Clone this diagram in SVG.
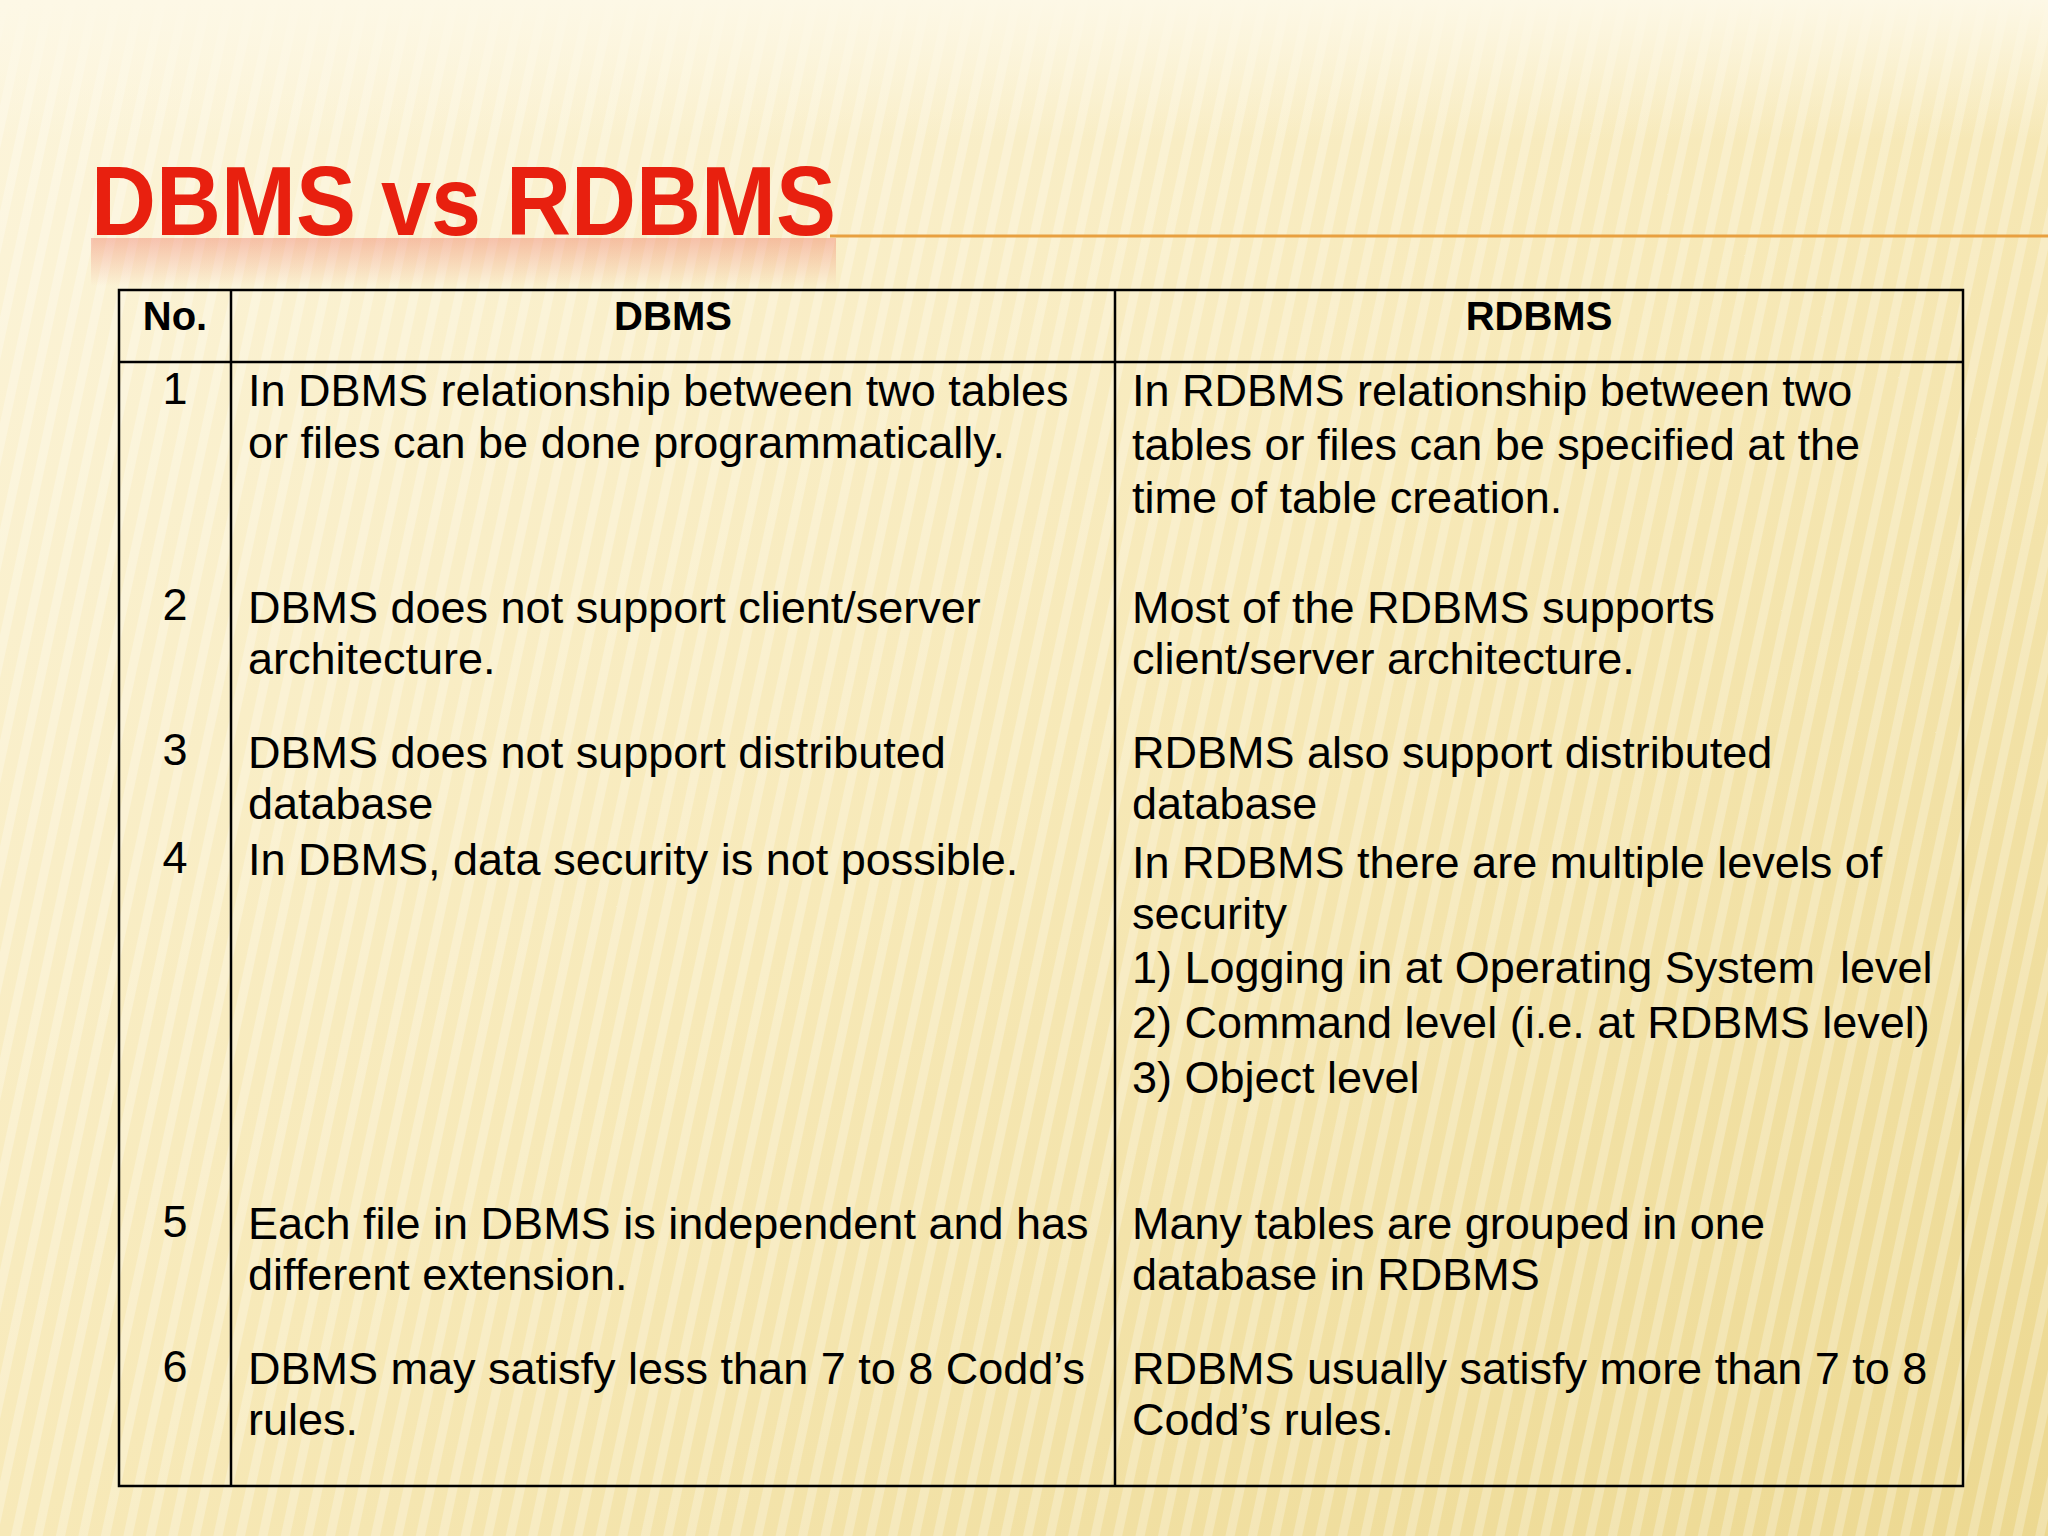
<svg xmlns="http://www.w3.org/2000/svg" width="2048" height="1536" viewBox="0 0 2048 1536">
<defs>
<linearGradient id="bg" x1="0" y1="0" x2="1" y2="1">
<stop offset="0" stop-color="#fcf5dc"/><stop offset="0.5" stop-color="#f7e9b8"/><stop offset="1" stop-color="#ecd890"/>
</linearGradient>
<linearGradient id="top" x1="0" y1="0" x2="0" y2="1">
<stop offset="0" stop-color="#fdf8e6"/><stop offset="1" stop-color="#fdf8e6" stop-opacity="0"/>
</linearGradient>
<pattern id="stripes" width="22" height="22" patternUnits="userSpaceOnUse" patternTransform="rotate(12)">
<rect width="9" height="22" fill="#ffffff" opacity="0.25"/>
</pattern>
<linearGradient id="refl" x1="0" y1="0" x2="0" y2="1">
<stop offset="0" stop-color="#e8281c" stop-opacity="0.25"/><stop offset="1" stop-color="#e8281c" stop-opacity="0"/>
</linearGradient>
</defs>
<style>
.t{font-family:"Liberation Sans",Arial,sans-serif;font-size:45px;fill:#000}
.h{font-family:"Liberation Sans",Arial,sans-serif;font-size:40px;font-weight:bold;fill:#000;text-anchor:middle}
.n{text-anchor:middle}
.g{stroke:#000;stroke-width:2.5;fill:none}
</style>
<rect width="2048" height="1536" fill="url(#bg)"/>
<rect width="2048" height="1536" fill="url(#stripes)"/>
<rect width="2048" height="140" fill="url(#top)"/>
<line x1="830" y1="236" x2="2048" y2="236" stroke="#e8a040" stroke-width="3"/>
<rect x="91" y="238" width="745" height="48" fill="url(#refl)"/>
<g id="title">
<text x="91" y="235" font-family="'Liberation Sans',Arial,sans-serif" font-weight="bold" font-size="98" fill="#e8200f" textLength="745" lengthAdjust="spacingAndGlyphs">DBMS vs RDBMS</text>
</g>
<g id="table">
<rect class="g" x="119" y="290" width="1844" height="1196"/>
<line class="g" x1="119" y1="362" x2="1963" y2="362"/>
<line class="g" x1="231" y1="290" x2="231" y2="1486"/>
<line class="g" x1="1115" y1="290" x2="1115" y2="1486"/>
<text class="h" x="175" y="330">No.</text>
<text class="h" x="673" y="330">DBMS</text>
<text class="h" x="1539" y="330">RDBMS</text>
</g>
<g id="numbers">
<text class="t n" x="175" y="404">1</text>
<text class="t n" x="175" y="620">2</text>
<text class="t n" x="175" y="765">3</text>
<text class="t n" x="175" y="873">4</text>
<text class="t n" x="175" y="1237">5</text>
<text class="t n" x="175" y="1382">6</text>
</g>
<g id="dbms">
<text class="t" x="248" y="406">In DBMS relationship between two tables</text>
<text class="t" x="248" y="458">or files can be done programmatically.</text>
<text class="t" x="248" y="623">DBMS does not support client/server</text>
<text class="t" x="248" y="674">architecture.</text>
<text class="t" x="248" y="768">DBMS does not support distributed</text>
<text class="t" x="248" y="819">database</text>
<text class="t" x="248" y="875">In DBMS, data security is not possible.</text>
<text class="t" x="248" y="1239">Each file in DBMS is independent and has</text>
<text class="t" x="248" y="1290">different extension.</text>
<text class="t" x="248" y="1384">DBMS may satisfy less than 7 to 8 Codd’s</text>
<text class="t" x="248" y="1435">rules.</text>
</g>
<g id="rdbms">
<text class="t" x="1132" y="406">In RDBMS relationship between two</text>
<text class="t" x="1132" y="460">tables or files can be specified at the</text>
<text class="t" x="1132" y="513">time of table creation.</text>
<text class="t" x="1132" y="623">Most of the RDBMS supports</text>
<text class="t" x="1132" y="674">client/server architecture.</text>
<text class="t" x="1132" y="768">RDBMS also support distributed</text>
<text class="t" x="1132" y="819">database</text>
<text class="t" x="1132" y="878">In RDBMS there are multiple levels of</text>
<text class="t" x="1132" y="929">security</text>
<text class="t" x="1132" y="983" xml:space="preserve">1) Logging in at Operating System  level</text>
<text class="t" x="1132" y="1038">2) Command level (i.e. at RDBMS level)</text>
<text class="t" x="1132" y="1093">3) Object level</text>
<text class="t" x="1132" y="1239">Many tables are grouped in one</text>
<text class="t" x="1132" y="1290">database in RDBMS</text>
<text class="t" x="1132" y="1384">RDBMS usually satisfy more than 7 to 8</text>
<text class="t" x="1132" y="1435">Codd’s rules.</text>
</g>
</svg>
